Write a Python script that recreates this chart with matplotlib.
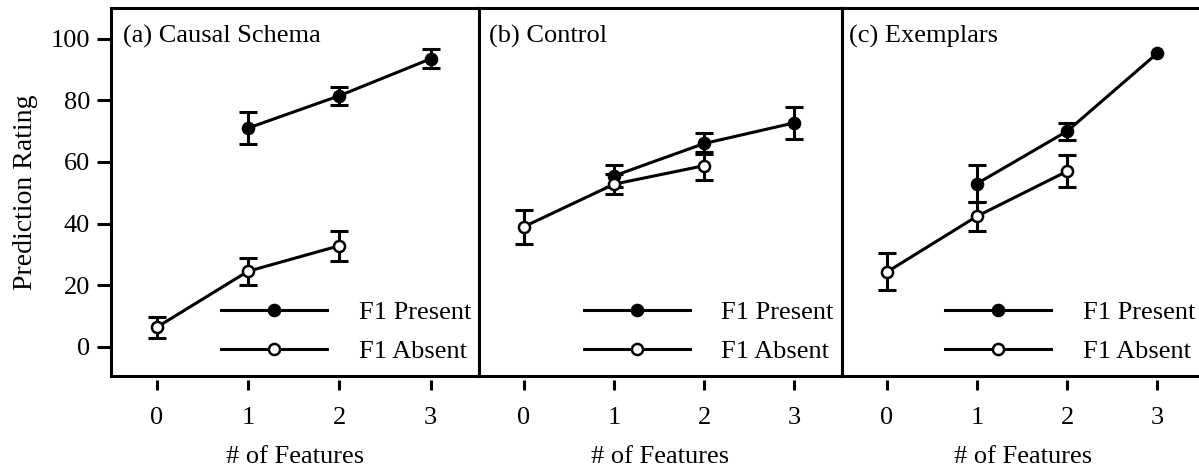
import numpy as np
import matplotlib
matplotlib.use("Agg")
import matplotlib.pyplot as plt
from matplotlib.lines import Line2D

plt.rcParams['font.family'] = ['Liberation Serif', 'DejaVu Serif']
plt.rcParams['font.size'] = 19

# data
panel_titles = ["(a) Causal Schema", "(b) Control", "(c) Exemplars"]
present_x = [1, 2, 3]
absent_x = [0, 1, 2]

schema_present = [71.0, 81.5, 93.5]
schema_present_err = [5.2, 3.0, 3.1]
schema_absent = [6.3, 24.5, 32.8]
schema_absent_err = [3.5, 4.3, 4.8]

control_present = [55.5, 66.0, 72.7]
control_present_err = [3.5, 3.3, 5.2]
control_absent = [39.0, 52.8, 58.8]
control_absent_err = [5.5, 3.2, 4.6]

exemplar_present = [53.0, 70.0, 95.3]
exemplar_present_err = [6.0, 2.8, np.nan]
exemplar_absent = [24.3, 42.4, 57.0]
exemplar_absent_err = [6.0, 4.7, 5.2]

x_ticks = [0, 1, 2, 3]
y_ticks = [0, 20, 40, 60, 80, 100]

panels = [
    (schema_present, schema_present_err, schema_absent, schema_absent_err),
    (control_present, control_present_err, control_absent, control_absent_err),
    (exemplar_present, exemplar_present_err, exemplar_absent, exemplar_absent_err),
]

W, H = 1199, 467
fig = plt.figure(figsize=(W / 100, H / 100), dpi=100)

# axes boxes in pixels (left, right)
edges = [(111, 479), (479, 842), (842, 1205)]
top_px, bot_px = 8, 376
legend_x = [0.30, 0.29, 0.285]
title_x = [0.033, 0.028, 0.02]

lw = 2.2
for i, (pres, pres_err, absn, absn_err) in enumerate(panels):
    l, r = edges[i]
    ax = fig.add_axes([l / W, (H - bot_px) / H, (r - l) / W, (bot_px - top_px) / H])

    def draw(xs, ys, errs, face):
        xs = np.asarray(xs, dtype=float)
        ys = np.asarray(ys, dtype=float)
        errs = np.asarray(errs, dtype=float)
        ok = ~np.isnan(errs)
        ax.errorbar(xs[ok], ys[ok], yerr=errs[ok], fmt='none', ecolor='black',
                    elinewidth=lw, capsize=6.5, capthick=lw, zorder=2)
        ax.plot(xs, ys, '-o', color='black', lw=lw, markersize=8,
                markerfacecolor=face, markeredgecolor='black', markeredgewidth=1.8, zorder=3)

    draw(present_x, pres, pres_err, 'black')
    draw(absent_x, absn, absn_err, 'white')

    ax.set_xlim(-0.5, 3.53)
    ax.set_ylim(-9.5, 110)
    for s in ax.spines.values():
        s.set_linewidth(2.2)
    ax.tick_params(axis='x', bottom=False, labelbottom=False)

    if i == 0:
        ax.set_yticks(y_ticks)
        ax.tick_params(axis='y', length=10, width=2.2, pad=5, labelsize=19)
        ax.set_ylabel("Prediction Rating", fontsize=20, labelpad=9)
    else:
        ax.tick_params(axis='y', left=False, labelleft=False)

    sec = ax.secondary_xaxis(-0.012)
    sec.set_xticks(x_ticks)
    sec.spines['bottom'].set_visible(False)
    sec.tick_params(length=7.5, width=2.2, pad=12, labelsize=19)
    sec.set_xlabel("# of Features", fontsize=19, labelpad=12)

    ax.text(title_x[i], 0.922, panel_titles[i], transform=ax.transAxes,
            ha='left', va='center', fontsize=19)

    handles = [
        Line2D([], [], color='black', lw=lw, marker='o', markersize=8,
               markerfacecolor='black', markeredgecolor='black', markeredgewidth=1.8),
        Line2D([], [], color='black', lw=lw, marker='o', markersize=8,
               markerfacecolor='white', markeredgecolor='black', markeredgewidth=1.8),
    ]
    ax.legend(handles, ["F1 Present", "F1 Absent"], loc='lower left',
              bbox_to_anchor=(legend_x[i], 0.035), frameon=False, numpoints=1,
              handlelength=4.0, handletextpad=1.2, labelspacing=0.58,
              borderpad=0, borderaxespad=0, fontsize=19)

fig.savefig("out.png", dpi=100)
